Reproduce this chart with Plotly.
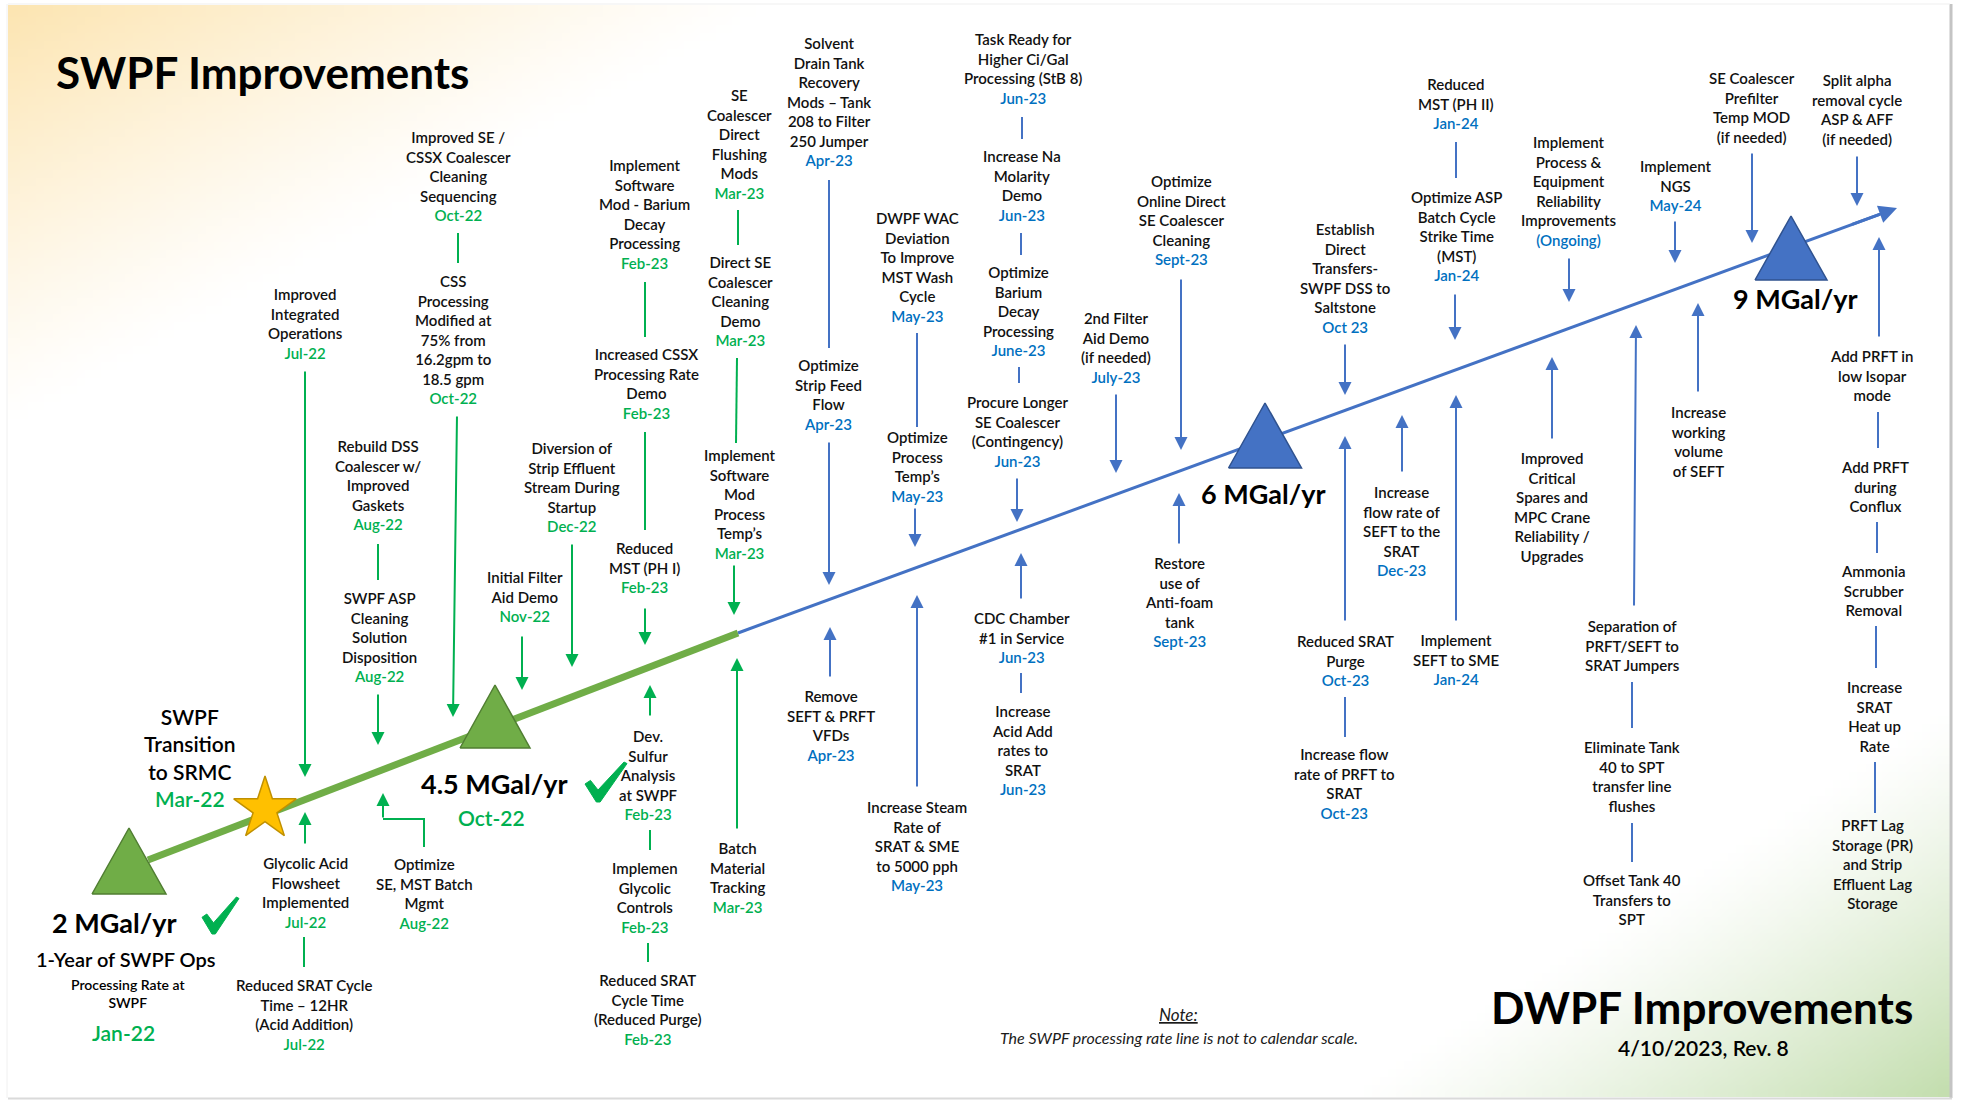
import base64, struct, zlib
import plotly.graph_objects as go

W, H = 1961, 1103
FONT = "Lato"
GREEN_TXT, BLUE_TXT = "#00B050", "#0070C0"
GREEN_LN, BLUE_LN = "#00B050", "#4472C4"

# ---------------- data ----------------
rate_labels = ["2 MGal/yr", "4.5 MGal/yr", "6 MGal/yr", "9 MGal/yr"]
rate_dates = ["Jan-22", "Oct-22", "", ""]
rate_phase = ["SWPF", "SWPF", "DWPF", "DWPF"]
rate_achieved = [True, True, False, False]

swpf_titles = [
    "Improved<br>Integrated<br>Operations",
    "Improved SE /<br>CSSX Coalescer<br>Cleaning<br>Sequencing",
    "CSS<br>Processing<br>Modified at<br>75% from<br>16.2gpm to<br>18.5 gpm",
    "Rebuild DSS<br>Coalescer w/<br>Improved<br>Gaskets",
    "SWPF ASP<br>Cleaning<br>Solution<br>Disposition",
    "Initial Filter<br>Aid Demo",
    "Diversion of<br>Strip Effluent<br>Stream During<br>Startup",
    "Implement<br>Software<br>Mod - Barium<br>Decay<br>Processing",
    "Increased CSSX<br>Processing Rate<br>Demo",
    "Reduced<br>MST (PH I)",
    "SE<br>Coalescer<br>Direct<br>Flushing<br>Mods",
    "Direct SE<br>Coalescer<br>Cleaning<br>Demo",
    "Implement<br>Software<br>Mod<br>Process<br>Temp’s",
    "Glycolic Acid<br>Flowsheet<br>Implemented",
    "Reduced SRAT Cycle<br>Time – 12HR<br>(Acid Addition)",
    "Optimize<br>SE, MST Batch<br>Mgmt",
    "Dev.<br>Sulfur<br>Analysis<br>at SWPF",
    "Implemen<br>Glycolic<br>Controls",
    "Reduced SRAT<br>Cycle Time<br>(Reduced Purge)",
    "Batch<br>Material<br>Tracking",
]
swpf_dates = ["Jul-22", "Oct-22", "Oct-22", "Aug-22", "Aug-22", "Nov-22", "Dec-22",
              "Feb-23", "Feb-23", "Feb-23", "Mar-23", "Mar-23", "Mar-23", "Jul-22",
              "Jul-22", "Aug-22", "Feb-23", "Feb-23", "Feb-23", "Mar-23"]

dwpf_titles = [
    "Solvent<br>Drain Tank<br>Recovery<br>Mods – Tank<br>208 to Filter<br>250 Jumper",
    "Optimize<br>Strip Feed<br>Flow",
    "DWPF WAC<br>Deviation<br>To Improve<br>MST Wash<br>Cycle",
    "Optimize<br>Process<br>Temp’s",
    "Task Ready for<br>Higher Ci/Gal<br>Processing (StB 8)",
    "Increase Na<br>Molarity<br>Demo",
    "Optimize<br>Barium<br>Decay<br>Processing",
    "Procure Longer<br>SE Coalescer<br>(Contingency)",
    "2nd Filter<br>Aid Demo<br>(if needed)",
    "Optimize<br>Online Direct<br>SE Coalescer<br>Cleaning",
    "Establish<br>Direct<br>Transfers-<br>SWPF DSS to<br>Saltstone",
    "Reduced<br>MST (PH II)",
    "Optimize ASP<br>Batch Cycle<br>Strike Time<br>(MST)",
    "Implement<br>Process &<br>Equipment<br>Reliability<br>Improvements",
    "Implement<br>NGS",
    "SE Coalescer<br>Prefilter<br>Temp MOD<br>(if needed)",
    "Split alpha<br>removal cycle<br>ASP & AFF<br>(if needed)",
    "CDC Chamber<br>#1 in Service",
    "Increase<br>Acid Add<br>rates to<br>SRAT",
    "Remove<br>SEFT & PRFT<br>VFDs",
    "Increase Steam<br>Rate of<br>SRAT & SME<br>to 5000 pph",
    "Restore<br>use of<br>Anti-foam<br>tank",
    "Reduced SRAT<br>Purge",
    "Increase flow<br>rate of PRFT to<br>SRAT",
    "Increase<br>flow rate of<br>SEFT to the<br>SRAT",
    "Implement<br>SEFT to SME",
    "Improved<br>Critical<br>Spares and<br>MPC Crane<br>Reliability /<br>Upgrades",
    "Separation of<br>PRFT/SEFT to<br>SRAT Jumpers",
    "Eliminate Tank<br>40 to SPT<br>transfer line<br>flushes",
    "Offset Tank 40<br>Transfers to<br>SPT",
    "Increase<br>working<br>volume<br>of SEFT",
    "Add PRFT in<br>low Isopar<br>mode",
    "Add PRFT<br>during<br>Conflux",
    "Ammonia<br>Scrubber<br>Removal",
    "Increase<br>SRAT<br>Heat up<br>Rate",
    "PRFT Lag<br>Storage (PR)<br>and Strip<br>Effluent Lag<br>Storage",
]
dwpf_dates = ["Apr-23", "Apr-23", "May-23", "May-23", "Jun-23", "Jun-23", "June-23",
              "Jun-23", "July-23", "Sept-23", "Oct 23", "Jan-24", "Jan-24", "(Ongoing)",
              "May-24", "", "", "Jun-23", "Jun-23", "Apr-23", "May-23", "Sept-23",
              "Oct-23", "Oct-23", "Dec-23", "Jan-24", "", "", "", "", "", "", "", "", "", ""]

# ---------------- layout (positions in slide pixels) ----------------
swpf_pos = [(305, 323), (458, 176), (453, 339.5), (378, 484.5), (379, 636.5), (525, 596.5),
            (572, 486.5), (644, 214), (646, 383.5), (644, 567.5), (739, 144), (740, 301),
            (739, 504), (305, 892), (304, 1014), (424, 893), (648, 774.5), (645, 897.5),
            (648, 1009), (737, 877)]
dwpf_pos = [(829, 101), (828, 394.5), (917, 267), (917, 466.5), (1023, 68), (1022, 185.5),
            (1018, 310.5), (1017, 431), (1116, 347), (1181, 219.5), (1345, 278), (1456, 103.5),
            (1456, 235.5), (1569, 191), (1675, 185), (1752, 107), (1857, 109.5), (1022, 637),
            (1022, 749.5), (831, 725.5), (917, 845.5), (1179, 601.5), (1345, 660), (1344, 783),
            (1401, 531), (1456, 659), (1552, 507), (1632, 645), (1632, 776), (1632, 899.5),
            (1698, 441.5), (1871, 375), (1875, 486), (1873, 590), (1874, 716), (1872, 863.5)]

# connectors: (x0, y0, x1, y1)  plain lines
swpf_links = [(458, 233, 458, 263), (378, 544, 378, 580), (645, 282, 645, 337), (645, 432, 645, 530),
              (738, 210, 738, 245), (737, 358, 736, 443), (304, 937, 304, 967), (650, 830, 650, 850),
              (648, 943, 648, 962)]
# arrows: (tail_x, tail_y, tip_x, tip_y)
swpf_arrows = [(305, 370, 305, 777), (457, 415, 453, 717), (378, 693, 378, 745), (522, 635, 522, 690),
               (572, 543, 572, 667), (645, 607, 645, 645), (734, 564, 734, 615), (305, 845, 305, 812),
               (383, 819, 383, 793), (650, 717, 650, 685), (737, 830, 737, 658)]
dwpf_links = [(829, 180, 829, 348), (917, 333, 917, 427), (1022, 117, 1022, 139), (1021, 233, 1021, 255),
              (1019, 367, 1019, 383), (1456, 142, 1456, 178), (1021, 673, 1021, 693), (1345, 697, 1345, 737),
              (1632, 682, 1632, 728), (1632, 823, 1632, 862), (1878, 412, 1878, 448), (1877, 522, 1877, 553),
              (1876, 626, 1876, 668), (1875, 762, 1875, 813)]
dwpf_arrows = [(829, 441, 829, 585), (915, 507, 915, 547), (1017, 477, 1017, 522), (1116, 393, 1116, 473),
               (1181, 278, 1181, 450), (1345, 343, 1345, 395), (1455, 293, 1455, 340), (1569, 257, 1569, 302),
               (1675, 220, 1675, 263), (1752, 152, 1752, 243), (1857, 155, 1857, 206), (1021, 600, 1021, 553),
               (830, 678, 830, 627), (917, 788, 917, 595), (1179, 545, 1179, 493), (1345, 622, 1345, 436),
               (1402, 473, 1402, 415), (1456, 622, 1456, 395), (1552, 440, 1552, 357), (1634, 607, 1636, 325),
               (1698, 393, 1698, 303), (1879, 338, 1879, 237)]
elbow = ([424, 424, 383], [847, 819, 819])

# main rate line: start, SWPF->DWPF switch, end
line_x = [148, 738, 1897]
line_y = [860, 633, 208]
# milestone triangles: (cx, base_y, width, height)
tri_geom = [(129, 894, 74, 66), (495, 748, 70, 63), (1265, 468, 73, 65), (1791, 280, 72, 64)]
rate_label_pos = [(114, 922), (494, 783), (1263, 493), (1795, 298)]
rate_date_pos = [(123, 1032), (491, 817), None, None]
# check-mark boxes (left, top, width, height)
check_box = [(202, 897, 37, 37), (585, 762, 42, 40), None, None]

# ---------------- background gradient image ----------------
def png_data_uri(w, h, pixel):
    raw = bytearray()
    for j in range(h):
        raw.append(0)
        for i in range(w):
            raw.extend(pixel(i, j))
    def chunk(tag, data):
        c = struct.pack(">I", len(data)) + tag + data
        return c + struct.pack(">I", zlib.crc32(tag + data) & 0xFFFFFFFF)
    png = b"\x89PNG\r\n\x1a\n" + chunk(b"IHDR", struct.pack(">IIBBBBB", w, h, 8, 2, 0, 0, 0))
    png += chunk(b"IDAT", zlib.compress(bytes(raw), 9)) + chunk(b"IEND", b"")
    return "data:image/png;base64," + base64.b64encode(png).decode()

SX0, SY0, SX1, SY1 = 8, 5, 1950, 1097
GW, GH = 240, 136

def bg_pixel(i, j):
    x = SX0 + (i + 0.5) / GW * (SX1 - SX0)
    y = SY0 + (j + 0.5) / GH * (SY1 - SY0)
    p = max(0.0, min(1.0, 1 - (x / 780 + y / 430))) ** 1.15
    g = max(0.0, min(1.0, 1 - ((W - x) / 620 + (H - y) / 400))) ** 1.2
    peach, green = (252, 228, 175), (192, 220, 170)
    out = []
    for k in range(3):
        v = 255 + (peach[k] - 255) * p + (green[k] - 255) * g
        out.append(int(max(0, min(255, round(v)))))
    return out

bg_uri = png_data_uri(GW, GH, bg_pixel)

# ---------------- figure ----------------
fig = go.Figure()

fig.add_layout_image(dict(source=bg_uri, xref="paper", yref="paper",
                          x=SX0 / W, y=1 - SY0 / H, sizex=(SX1 - SX0) / W, sizey=(SY1 - SY0) / H,
                          xanchor="left", yanchor="top", sizing="stretch", layer="below"))

# slide frame / shadow
fig.add_shape(type="line", x0=1951, y0=4, x1=1951, y1=1098, line=dict(color="#C4C4C4", width=3))
fig.add_shape(type="line", x0=8, y0=1098.5, x1=1952, y1=1098.5, line=dict(color="#DADADA", width=2))
fig.add_shape(type="line", x0=8, y0=4, x1=1950, y1=4, line=dict(color="#EFEFEF", width=1))
fig.add_shape(type="line", x0=7, y0=4, x1=7, y1=1098, line=dict(color="#F0F0F0", width=1))

# main rate line (SWPF part green, DWPF part blue)
fig.add_trace(go.Scatter(x=line_x[:2], y=line_y[:2], mode="lines",
                         line=dict(color="#70AD47", width=7), hoverinfo="skip", showlegend=False))
tfrac = 0.985
bx_end = line_x[1] + (line_x[2] - line_x[1]) * tfrac
by_end = line_y[1] + (line_y[2] - line_y[1]) * tfrac
fig.add_trace(go.Scatter(x=[line_x[1], bx_end], y=[line_y[1], by_end], mode="lines",
                         line=dict(color=BLUE_LN, width=3), hoverinfo="skip", showlegend=False))
fig.add_annotation(x=line_x[2], y=line_y[2], ax=line_x[1] + (line_x[2] - line_x[1]) * 0.96,
                   ay=line_y[1] + (line_y[2] - line_y[1]) * 0.96, xref="x", yref="y", axref="x", ayref="y",
                   text="", showarrow=True, arrowhead=2, arrowsize=1.2, arrowwidth=3, arrowcolor=BLUE_LN)

# milestone triangles
for (cx, by, w, h), ph in zip(tri_geom, rate_phase):
    fill, edge = ("#70AD47", "#507E32") if ph == "SWPF" else ("#4472C4", "#2F528F")
    fig.add_trace(go.Scatter(x=[cx - w / 2, cx + w / 2, cx, cx - w / 2], y=[by, by, by - h, by],
                             mode="lines", fill="toself", fillcolor=fill,
                             line=dict(color=edge, width=1.5), hoverinfo="skip", showlegend=False))

# achieved check marks (filled polygons)
CHECK_U = [(0.0, 0.55), (0.13, 0.46), (0.31, 0.70), (0.93, 0.0), (1.0, 0.04), (0.36, 1.0), (0.27, 1.0), (0.0, 0.55)]
for box, ok in zip(check_box, rate_achieved):
    if ok and box:
        bx, byy, bw, bh = box
        fig.add_trace(go.Scatter(x=[bx + u * bw for u, v in CHECK_U], y=[byy + v * bh for u, v in CHECK_U],
                                 mode="lines", fill="toself", fillcolor="#00B050",
                                 line=dict(color="#00B050", width=1), hoverinfo="skip", showlegend=False))

# SRMC transition star
fig.add_trace(go.Scatter(x=[265], y=[809], mode="markers",
                         marker=dict(symbol="star", size=47, color="#FFC000",
                                     line=dict(color="#C09000", width=1.5)),
                         hoverinfo="skip", showlegend=False))

# elbow connector
fig.add_trace(go.Scatter(x=elbow[0], y=elbow[1], mode="lines", line=dict(color=GREEN_LN, width=2),
                         hoverinfo="skip", showlegend=False))

for links, col in ((swpf_links, GREEN_LN), (dwpf_links, BLUE_LN)):
    for x0, y0, x1, y1 in links:
        fig.add_shape(type="line", x0=x0, y0=y0, x1=x1, y1=y1, line=dict(color=col, width=2))

for arrows, col in ((swpf_arrows, GREEN_LN), (dwpf_arrows, BLUE_LN)):
    for tx, ty, hx, hy in arrows:
        fig.add_annotation(x=hx, y=hy, ax=tx, ay=ty, xref="x", yref="y", axref="x", ayref="y",
                           text="", showarrow=True, arrowhead=2, arrowsize=1.3, arrowwidth=2,
                           arrowcolor=col, standoff=0)


def label(x, y, text, size=15, color="#0D0D0D", family=FONT, weight=600):
    fig.add_annotation(x=x, y=y, xref="x", yref="y", text=text, showarrow=False,
                       xanchor="center", yanchor="middle", align="center",
                       font=dict(family=family, size=size, color=color, weight=weight))


for titles, dates, pos, dcol in ((swpf_titles, swpf_dates, swpf_pos, GREEN_TXT),
                                 (dwpf_titles, dwpf_dates, dwpf_pos, BLUE_TXT)):
    for t, d, (x, y) in zip(titles, dates, pos):
        txt = t + (f"<br><span style='color:{dcol}'>{d}</span>" if d else "")
        label(x, y, txt, size=15, color="#111111")

# rate milestones
for lab, d, lp, dp in zip(rate_labels, rate_dates, rate_label_pos, rate_date_pos):
    label(lp[0], lp[1], lab, size=27, color="#000000", weight=700)
    if dp:
        label(dp[0], dp[1], d, size=21, color=GREEN_TXT)

label(126, 959, "1-Year of SWPF Ops", size=20, color="#000000")
label(128, 993.5, "Processing Rate at<br>SWPF", size=14, color="#000000")
label(190, 757.5, f"SWPF<br>Transition<br>to SRMC<br><span style='color:{GREEN_TXT}'>Mar-22</span>",
      size=21, color="#000000")

# titles & notes
label(262, 72, "SWPF Improvements", size=44, color="#000000", weight=700)
label(1702, 1007, "DWPF Improvements", size=44, color="#000000", weight=700)
label(1703, 1047, "4/10/2023, Rev. 8", size=21, color="#000000")
label(1178, 1014, "<i><u>Note:</u></i>", size=17, color="#1A1A1A", weight=400)
label(1179, 1037, "<i>The SWPF processing rate line is not to calendar scale.</i>", size=16,
      color="#1A1A1A", weight=400)

fig.update_layout(
    width=W, height=H, margin=dict(l=0, r=0, t=0, b=0),
    paper_bgcolor="#FFFFFF", plot_bgcolor="rgba(0,0,0,0)",
    xaxis=dict(range=[0, W], visible=False, fixedrange=True),
    yaxis=dict(range=[H, 0], visible=False, fixedrange=True),
    showlegend=False,
)

fig.write_html("out.html", config={"displayModeBar": False},
               post_script="document.body.style.margin='0';document.body.style.overflow='hidden';")
